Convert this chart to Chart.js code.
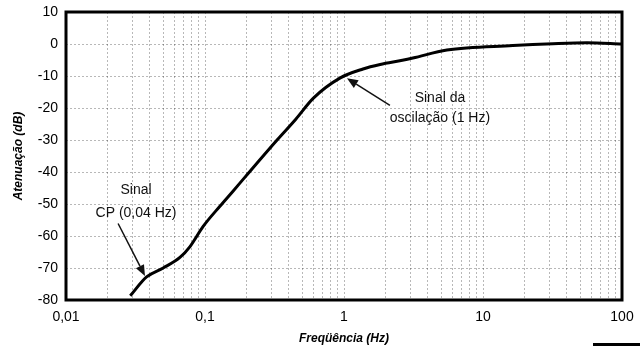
<!DOCTYPE html>
<html>
<head>
<meta charset="utf-8">
<script src="https://cdn.jsdelivr.net/npm/chart.js@4/dist/chart.umd.min.js"></script>
<style>
  html, body { margin: 0; padding: 0; background: #fff; }
  #wrap { position: relative; width: 640px; height: 347px; }
  #mark { position: absolute; left: 593px; top: 343px; width: 47px; height: 3px; background: #000; }
</style>
</head>
<body>
<div id="wrap">
  <canvas id="c" width="640" height="347"></canvas>
  <div id="mark"></div>
</div>
<script>
// ---- data ----
const frequencies = [0.029, 0.038, 0.05, 0.066, 0.078, 0.097, 0.128, 0.159, 0.194, 0.33, 0.45, 0.6, 0.94, 1.37, 1.82, 2.63, 3.13, 5.5, 16.4, 31.9, 56, 100];
const attenuation = [-78.7, -72.8, -70, -66.7, -63.3, -57, -50.7, -46, -41.6, -30, -23.5, -17, -10.6, -7.8, -6.4, -5.1, -4.4, -1.9, -0.5, 0.1, 0.4, 0];
const xDecades = [0.01, 0.1, 1, 10, 100];
const xTickLabels = ['0,01', '0,1', '1', '10', '100'];
const yTicks = [10, 0, -10, -20, -30, -40, -50, -60, -70, -80];
const xTitle = 'Freqüência (Hz)';
const yTitle = 'Atenuação (dB)';
// annotations: [label lines], text anchor (freq, dB), arrow tail, arrow tip
const annotations = [
  { lines: ['Sinal', 'CP (0,04 Hz)'], text: [0.0319, -45.8], lineGapDb: -7.2, tail: [0.0237, -56.1], tip: [0.037, -72.5] },
  { lines: ['Sinal da', 'oscilação (1 Hz)'], text: [4.9, -17.0], lineGapDb: -6.2, tail: [2.14, -19.2], tip: [1.05, -10.7] }
];

const FONT = '"Liberation Sans", Arial, sans-serif';

const points = frequencies.map((f, i) => ({ x: f, y: attenuation[i] }));

const gridValues = [];
for (let d = 0; d < xDecades.length; d++) {
  const base = xDecades[d];
  if (d === xDecades.length - 1) { gridValues.push(base); break; }
  for (let m = 1; m <= 9; m++) gridValues.push(+(base * m).toPrecision(6));
}

const framePlugin = {
  id: 'frame',
  afterDatasetsDraw(chart) {
    const { ctx, chartArea: a } = chart;
    ctx.save();
    ctx.strokeStyle = '#000';
    ctx.lineWidth = 3;
    ctx.strokeRect(a.left, a.top, a.right - a.left, a.bottom - a.top);
    ctx.restore();
  }
};

const annotPlugin = {
  id: 'annot',
  afterDraw(chart) {
    const { ctx } = chart;
    const xs = chart.scales.x, ys = chart.scales.y;
    ctx.save();
    ctx.fillStyle = '#111';
    ctx.strokeStyle = '#111';
    ctx.font = '14px ' + FONT;
    ctx.textAlign = 'center';
    ctx.textBaseline = 'middle';
    annotations.forEach(an => {
      an.lines.forEach((t, i) => {
        ctx.fillText(t, xs.getPixelForValue(an.text[0]), ys.getPixelForValue(an.text[1] + i * an.lineGapDb));
      });
      const x1 = xs.getPixelForValue(an.tail[0]), y1 = ys.getPixelForValue(an.tail[1]);
      const x2 = xs.getPixelForValue(an.tip[0]), y2 = ys.getPixelForValue(an.tip[1]);
      const ang = Math.atan2(y2 - y1, x2 - x1);
      const hl = 11, hw = 4.5;
      const bx = x2 - hl * Math.cos(ang), by = y2 - hl * Math.sin(ang);
      ctx.lineWidth = 1.5;
      ctx.beginPath(); ctx.moveTo(x1, y1); ctx.lineTo(bx, by); ctx.stroke();
      ctx.beginPath();
      ctx.moveTo(x2, y2);
      ctx.lineTo(bx + hw * Math.sin(ang), by - hw * Math.cos(ang));
      ctx.lineTo(bx - hw * Math.sin(ang), by + hw * Math.cos(ang));
      ctx.closePath(); ctx.fill();
    });
    ctx.restore();
  }
};

new Chart(document.getElementById('c'), {
  type: 'line',
  data: {
    datasets: [{
      data: points,
      borderColor: '#000',
      borderWidth: 3,
      pointRadius: 0,
      cubicInterpolationMode: 'monotone',
      fill: false
    }]
  },
  options: {
    responsive: false,
    animation: false,
    devicePixelRatio: 1,
    layout: { padding: { left: 0, right: 18, top: 12, bottom: 0 } },
    plugins: { legend: { display: false }, tooltip: { enabled: false } },
    scales: {
      x: {
        type: 'logarithmic',
        min: 0.01, max: 100,
        afterBuildTicks(scale) { scale.ticks = gridValues.map(v => ({ value: v })); },
        afterFit(scale) { scale.height = 47; scale.paddingLeft = 0; scale.paddingRight = 0; },
        grid: { color: 'rgba(0,0,0,0.28)', lineWidth: 1, drawTicks: false },
        border: { display: false, dash: [2, 2] },
        ticks: {
          autoSkip: false, maxRotation: 0, padding: 9,
          color: '#000', font: { family: FONT, size: 14 },
          callback(v) { const i = xDecades.findIndex(d => Math.abs(d - v) / d < 1e-6); return i >= 0 ? xTickLabels[i] : ''; }
        },
        title: { display: true, text: xTitle, color: '#000', font: { family: FONT, size: 12, weight: 'bold', style: 'italic' }, padding: { top: 0, bottom: 1 } }
      },
      y: {
        min: -80, max: 10,
        afterBuildTicks(scale) { scale.ticks = yTicks.map(v => ({ value: v })); },
        afterFit(scale) { scale.width = 66; scale.paddingTop = 0; scale.paddingBottom = 0; },
        grid: { color: 'rgba(0,0,0,0.28)', lineWidth: 1, drawTicks: false },
        border: { display: false, dash: [2, 2] },
        ticks: { padding: 8, color: '#000', font: { family: FONT, size: 14 } },
        title: { display: true, text: yTitle, color: '#000', font: { family: FONT, size: 12, weight: 'bold', style: 'italic' }, padding: { top: 11, bottom: 0 } }
      }
    }
  },
  plugins: [framePlugin, annotPlugin]
});
</script>
</body>
</html>
